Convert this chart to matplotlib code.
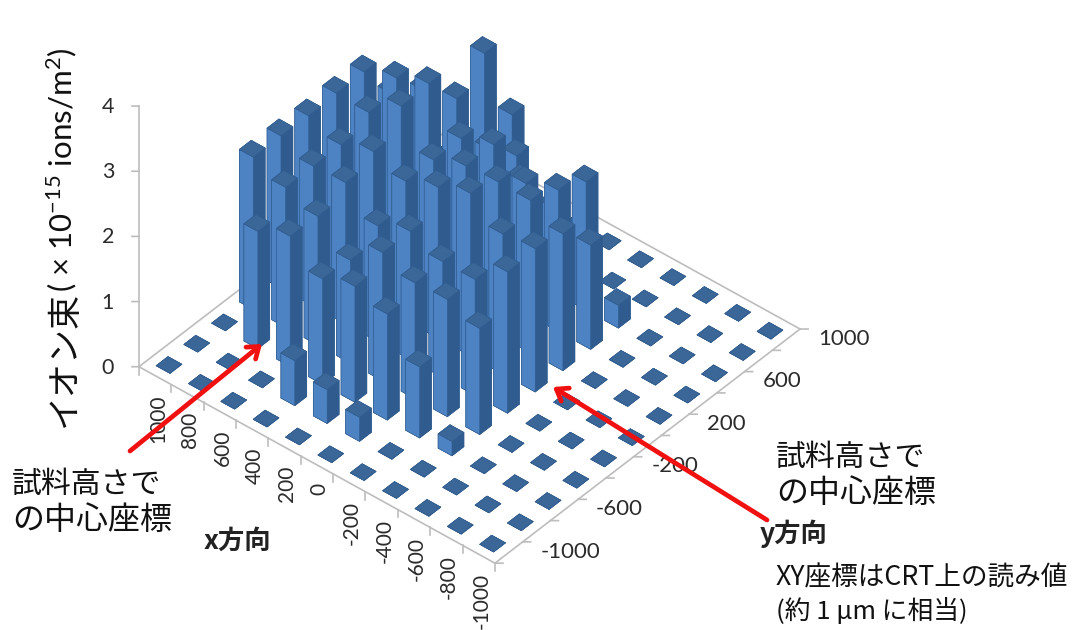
import numpy as np
import matplotlib
matplotlib.use("Agg")
import matplotlib.pyplot as plt
from mpl_toolkits.mplot3d import proj3d

plt.rcParams['mathtext.default'] = 'regular'

JP = ['Noto Sans CJK JP', 'DejaVu Sans']
LAT = ['Lato', 'DejaVu Sans']

x_values = [1000, 800, 600, 400, 200, 0, -200, -400, -600, -800, -1000]
y_values = [-1000, -800, -600, -400, -200, 0, 200, 400, 600, 800, 1000]
y_tick_labels = [-1000, -600, -200, 200, 600, 1000]
z_ticks = [0, 1, 2, 3, 4]
flux = [
    [0, 0, 0, 2.34, 2.34, 2.32, 2.34, 2.34, 1.68, 0, 0],
    [0, 0, 1.80, 2.15, 2.15, 2.15, 2.32, 2.52, 2.00, 0, 0],
    [0, 0, 2.00, 1.98, 2.17, 2.32, 2.69, 2.71, 2.15, 2.52, 1.25],
    [0, 0.69, 1.62, 1.58, 1.78, 2.14, 2.14, 2.14, 1.65, 1.22, 0],
    [0, 0.52, 1.78, 1.97, 1.97, 2.32, 2.32, 2.32, 1.43, 0, 0],
    [0, 0.37, 1.63, 1.78, 1.78, 2.50, 2.35, 2.00, 1.30, 0, 0],
    [0, 0, 1.09, 1.80, 1.78, 2.15, 2.34, 2.17, 1.97, 0, 0],
    [0, 0, 0.22, 1.63, 2.17, 2.20, 2.10, 1.60, 0.35, 0, 0],
    [0] * 11,
    [0] * 11,
    [0] * 11,
]

W, H = 1074, 630
fig = plt.figure(figsize=(W / 100, H / 100), dpi=100, facecolor='white')
ax = fig.add_axes([0, 0, 1, 1], projection='3d', computed_zorder=False)
ax.set_proj_type('ortho')
ax.set_xlim(1100, -1100, view_margin=0)
ax.set_ylim(-1100, 1100, view_margin=0)
ax.set_zlim(0, 4, view_margin=0)
ax.set_box_aspect((465, 470, 342))
ax.view_init(elev=40.6, azim=-49.7)
ax.set_axis_off()
ax.patch.set_alpha(0)


def project(xv, yv, zv=0):
    a, b, _ = proj3d.proj_transform(xv, yv, zv, ax.get_proj())
    return ax.transData.transform((a, b))


def place(left, bottom, side):
    ax.set_position([left / W, bottom / H, side / W, side / H])
    ax.apply_aspect()


# fit the axes box so the first / last floor cell land where they are in the picture
side = 600.0
place(0, 0, side)
p0, p1 = project(1000, -1000), project(-1000, 1000)
side *= (770 - 169) / (p1[0] - p0[0])
place(0, 0, side)
p0 = project(1000, -1000)
place(169 - p0[0], (H - 365) - p0[1], side)

LINE = '#bdbdbd'
TXT = '#2b2b2b'
LIGHT, DARK, TOP = '#4d82c3', '#2f5b8e', '#3a6698'
BAR_W = 86
order = 1
lkw = dict(color=LINE, lw=1.2)

# floor edges + z axis
ax.plot([1100, -1100], [-1100, -1100], [0, 0], zorder=0, **lkw)
ax.plot([-1100, -1100], [-1100, 1100], [0, 0], zorder=0, **lkw)
ax.plot([1100, 1100], [-1100, 1100], [0, 0], zorder=0, **lkw)
ax.plot([1100, -1100], [1100, 1100], [0, 0], zorder=0, **lkw)
ax.plot([1100, 1100], [-1100, -1100], [0, max(z_ticks)], zorder=0, **lkw)

# ticks
for k in range(12):
    e = 1100 - 200 * k
    ax.plot([e, e], [-1100, -1100], [0, -0.12], zorder=0, **lkw)
    e = -1100 + 200 * k
    ax.plot([-1100, -1100 - 29], [e, e + 24], [0, 0], zorder=0, **lkw)
for z in z_ticks:
    ax.plot([1100, 1100 + 25], [-1100, -1100 - 21], [z, z], zorder=0, **lkw)

# bars, painted back to front
for i, xv in enumerate(x_values):
    for j in range(len(y_values) - 1, -1, -1):
        ax.bar3d(xv - BAR_W / 2, y_values[j] - BAR_W / 2, 0, BAR_W, BAR_W, flux[i][j],
                 color=[TOP, TOP, LIGHT, LIGHT, DARK, DARK], shade=False,
                 edgecolor='#2f5b8e', linewidth=0.4, zorder=order)
        order += 1

# overlay in picture pixels for tick labels and annotations
ov = fig.add_axes([0, 0, 1, 1], zorder=10)
ov.set_xlim(0, W)
ov.set_ylim(H, 0)
ov.axis('off')
ov.patch.set_alpha(0)


def screen(xv, yv, zv=0):
    d = project(xv, yv, zv)
    return d[0], H - d[1]


for xv in x_values:
    sx, sy = screen(xv, -1000)
    ov.text(sx - 11, sy + 29, str(xv), rotation=90, ha='center', va='top',
            family=LAT, fontsize=15, color=TXT)
for yv in y_tick_labels:
    sx, sy = screen(-1000, yv)
    ov.text(sx + 48, sy + 8, str(yv), ha='left', va='center',
            family=LAT, fontsize=16, color=TXT)
for z in z_ticks:
    sx, sy = screen(1100, -1100, z)
    ov.text(sx - 31, sy + 1, str(z), ha='center', va='center',
            family=LAT, fontsize=15.5, color=TXT)

arrow = dict(arrowstyle='->,head_length=0.75,head_width=0.55', color='#f01010', lw=3.4,
             shrinkA=0, shrinkB=0)
ov.annotate('', xy=(262, 344), xytext=(130, 451), arrowprops=arrow)
ov.annotate('', xy=(553, 387), xytext=(767, 520), arrowprops=arrow)

for (tx, ty, s, fs) in [(12, 484, '試料高さで', 21.5), (12, 520, 'の中心座標', 23),
                        (776, 457, '試料高さで', 21.5), (776, 493, 'の中心座標', 23)]:
    ov.text(tx, ty, s, family=JP, fontsize=fs, color='#111111', ha='left', va='center')

ov.text(204, 541, 'x方向', family=JP, fontsize=19, weight='bold', color='#222222', ha='left', va='center')
ov.text(760, 534, 'y方向', family=JP, fontsize=19, weight='bold', color='#222222', ha='left', va='center')
ov.text(776, 578, 'XY座標はCRT上の読み値', family=JP, fontsize=19.2, color='#111111', ha='left', va='center')
ov.text(776, 611, '(約 1 µm に相当)', family=JP, fontsize=18.5, color='#111111', ha='left', va='center')

# rotated y title in pieces (Japanese part, then the Latin part with its superscripts)
ov.text(65, 428, 'イオン束', family=JP, fontsize=24.5, color='#111111', rotation=90,
        ha='center', va='bottom')
ov.text(62, 292, '( × 10$^{-15}$ ions/m$^{2}$)', family=LAT, fontsize=22.5, color='#111111',
        rotation=90, ha='center', va='bottom')

fig.savefig('out.png', dpi=100, facecolor='white')
